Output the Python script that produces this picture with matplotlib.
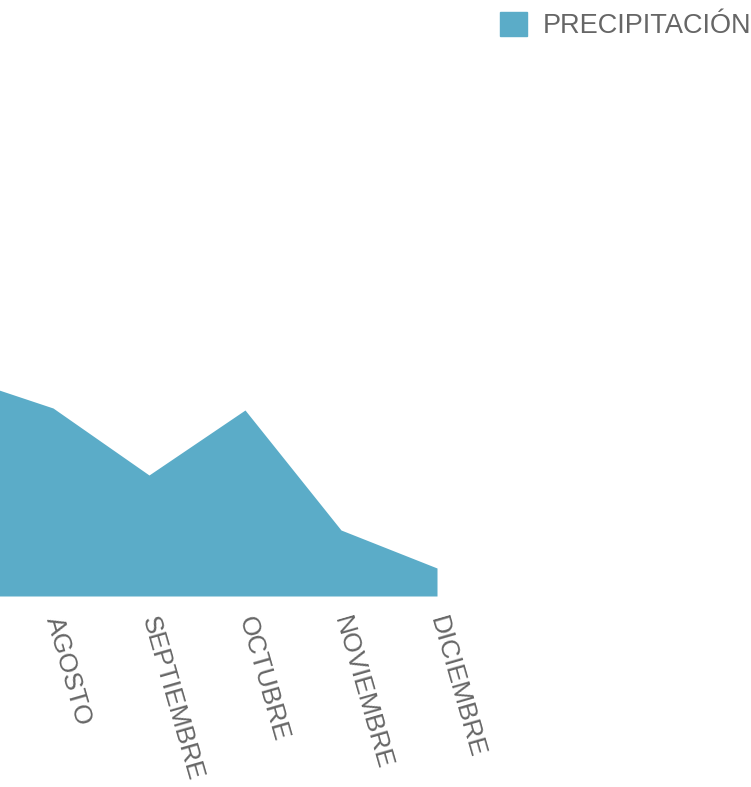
import matplotlib.pyplot as plt
from matplotlib.patches import Patch

plt.rcParams['font.family'] = ['Liberation Sans', 'DejaVu Sans']

# only the right part of the chart is visible (julio is cut off at the left)
meses = ["JULIO", "AGOSTO", "SEPTIEMBRE", "OCTUBRE", "NOVIEMBRE", "DICIEMBRE"]
posiciones = [6, 7, 8, 9, 10, 11]
precipitacion = [110, 94, 60.5, 93, 33, 14]

color_area = "#5BACC8"
color_texto = "#666666"

W, H = 751, 787
fig = plt.figure(figsize=(W / 100, H / 100), dpi=100)
base_px = 596
ax = fig.add_axes([0, (H - base_px) / H, 1, base_px / H])

ax.fill_between(posiciones, precipitacion, 0, color=color_area, linewidth=0)

# agosto at x=53px, 96px per month
paso = 96
ax.set_xlim(7 - 53 / paso, 7 + (W - 53) / paso)
ax.set_ylim(0, base_px / 2)

ax.set_xticks(posiciones[1:])
ax.set_xticklabels(meses[1:], rotation=-74, ha="left", va="center",
                   rotation_mode="anchor", fontsize=19, color=color_texto)
ax.tick_params(axis="x", length=0, pad=15)
ax.set_yticks([])
for s in ax.spines.values():
    s.set_visible(False)

fig.legend(handles=[Patch(color=color_area, label="PRECIPITACIÓN")],
           loc="upper right", bbox_to_anchor=(1.0, 1 - 12 / H),
           frameon=False, fontsize=19.5, labelcolor=color_texto,
           handlelength=1.0, handleheight=1.0, handletextpad=0.55,
           borderpad=0, borderaxespad=0)

fig.savefig("out.png", dpi=100)
